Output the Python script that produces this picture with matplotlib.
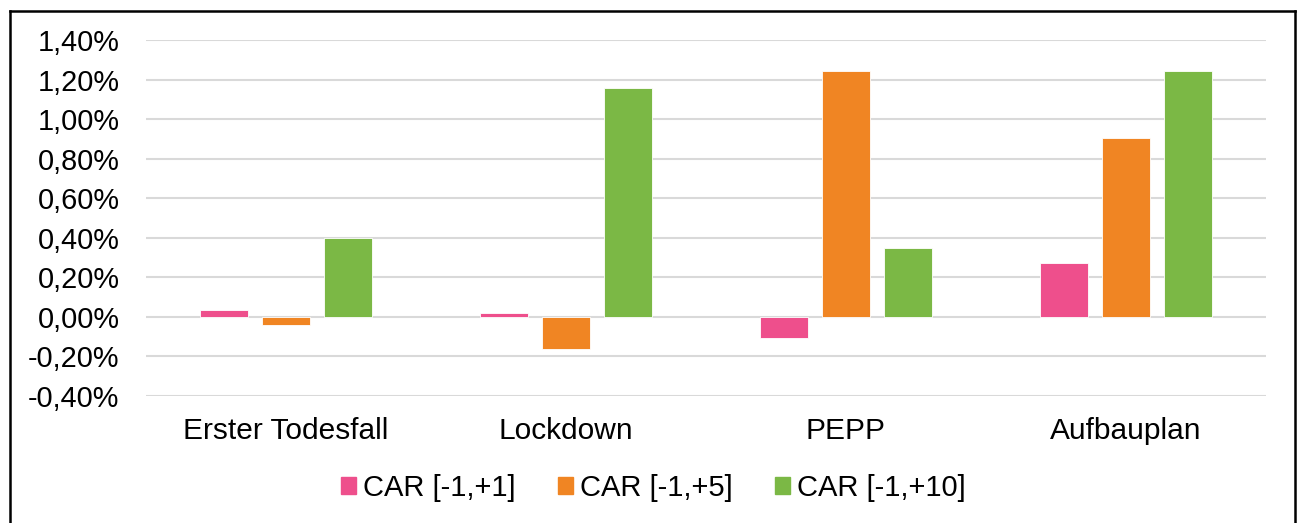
import matplotlib.pyplot as plt
from matplotlib.lines import Line2D
from matplotlib.patches import Patch
from matplotlib.ticker import FuncFormatter
import numpy as np

plt.rcParams['font.family'] = ['Liberation Sans', 'DejaVu Sans']

categories = ['Erster Todesfall', 'Lockdown', 'PEPP', 'Aufbauplan']
series = ['CAR [-1,+1]', 'CAR [-1,+5]', 'CAR [-1,+10]']
car_1 = [0.035, 0.02, -0.105, 0.27]
car_5 = [-0.04, -0.16, 1.245, 0.905]
car_10 = [0.40, 1.157, 0.35, 1.245]
colors = ['#EE4F8C', '#F08523', '#7BB845']

fig = plt.figure(figsize=(12.99, 5.23), dpi=100)
ax = fig.add_axes([146 / 1299, 1 - 396 / 523, (1266 - 146) / 1299, (396 - 40) / 523])

x = np.arange(len(categories))
w = 0.173
step = 0.2216
for i, (vals, col) in enumerate(zip([car_1, car_5, car_10], colors)):
    ax.bar(x + (i - 1) * step, vals, w, color=col, edgecolor='white', linewidth=0.6,
           label=series[i], zorder=3)

ax.set_xlim(-0.5, len(categories) - 0.5)
ax.set_ylim(-0.4, 1.4)
ax.set_yticks(np.arange(-0.4, 1.41, 0.2))
ax.yaxis.set_major_formatter(FuncFormatter(lambda v, p: f'{v:.2f}%'.replace('.', ',')))
ax.set_xticks(x)
ax.set_xticklabels(categories)
ax.grid(axis='y', color='#D9D9D9', linewidth=1.5, zorder=0)
for s in ax.spines.values():
    s.set_visible(False)
ax.tick_params(axis='both', length=0)
ax.tick_params(axis='y', pad=19, labelsize=20.8)
ax.tick_params(axis='x', pad=15, labelsize=21.5)

handles = [Patch(color=c) for c in colors]
fig.legend(handles, series, loc='center', bbox_to_anchor=(0.503, 0.067), ncol=3,
           frameon=False, fontsize=21, handlelength=0.5, handleheight=0.5,
           handletextpad=0.25, columnspacing=1.45)

# outer frame (left, top, right)
lw = 1.8
fig.add_artist(Line2D([10 / 1299, 10 / 1299], [0, 1 - 10.5 / 523], color='black', lw=lw))
fig.add_artist(Line2D([10 / 1299, 1295 / 1299], [1 - 10.5 / 523, 1 - 10.5 / 523], color='black', lw=lw))
fig.add_artist(Line2D([1295 / 1299, 1295 / 1299], [0, 1 - 10.5 / 523], color='black', lw=lw))

fig.savefig('out.png', dpi=100)
